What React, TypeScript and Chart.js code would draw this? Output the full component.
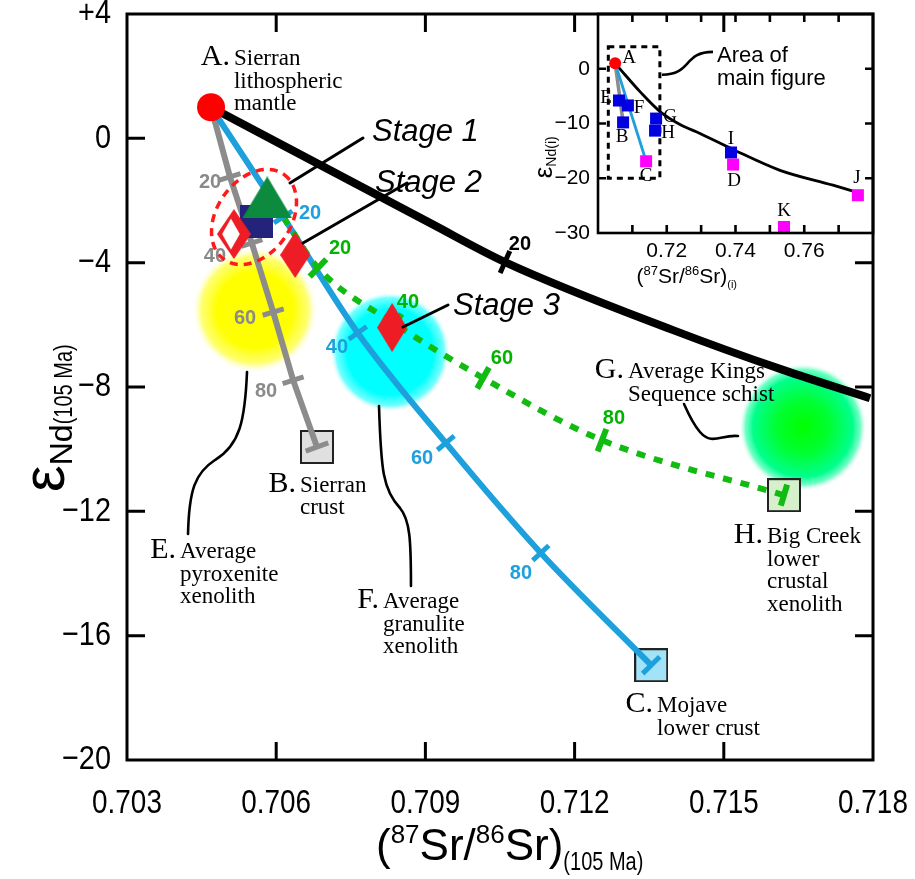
import React, { useEffect, useRef } from 'react';
import { Chart, registerables } from 'chart.js';

Chart.register(...registerables);

const SANS = '"Liberation Sans", Arial, Helvetica, sans-serif';
const SERIF = '"Liberation Serif", "Times New Roman", serif';

// ================= MAIN FIGURE DATA =================
const mainXMin = 0.703;
const mainXMax = 0.718;
const mainYMin = -20;
const mainYMax = 4;
const xTickValues = [0.703, 0.706, 0.709, 0.712, 0.715, 0.718];
const xTickLabels = ['0.703', '0.706', '0.709', '0.712', '0.715', '0.718'];
const xInnerTicks = [0.706, 0.709, 0.712, 0.715];
const yTickValues = [4, 0, -4, -8, -12, -16, -20];
const yTickLabels = ['+4', '0', '\u22124', '\u22128', '\u221212', '\u221216', '\u221220'];
const yLeftTicks = [0, -4, -8, -12, -16];
const yRightTicks = [-4, -8, -12, -16];

// end-member A
const pointAX = [0.70469];
const pointAY = [1.0];

// mixing curves (x, y) with tick nodes every 20 %
const blackCurveX = [0.70469, 0.70909, 0.7106, 0.71398, 0.71619, 0.71794];
const blackCurveY = [1.0, -2.72, -3.98, -6.17, -7.45, -8.36];
const blackTickIdx = [2];
const blackTickText = ['20'];
const blackTickTextX = [0.7109];
const blackTickTextY = [-3.4];

const grayLineX = [0.70469, 0.70507, 0.70551, 0.70594, 0.70634, 0.70682];
const grayLineY = [1.0, -1.24, -3.37, -5.59, -7.78, -9.93];
const grayTickText = ['20', '40', '60', '80'];
const grayTickTextX = [0.704669, 0.704769, 0.705373, 0.705795];
const grayTickTextY = [-1.405, -3.786, -5.78, -8.129];

const blueLineX = [0.70469, 0.70614, 0.70764, 0.70941, 0.71132, 0.71354];
const blueLineY = [1.0, -2.53, -6.26, -9.8, -13.34, -16.95];
const blueTickText = ['20', '40', '60', '80'];
const blueTickTextX = [0.70668, 0.707222, 0.708932, 0.710922];
const blueTickTextY = [-2.402, -6.713, -10.284, -13.984];

const greenLineX = [0.70614, 0.70684, 0.70839, 0.71016, 0.71255, 0.71621];
const greenLineY = [-2.53, -4.17, -5.97, -7.71, -9.71, -11.48];
const greenTickText = ['20', '40', '60', '80'];
const greenTickTextX = [0.707283, 0.70865, 0.71054, 0.712792];
const greenTickTextY = [-3.528, -5.266, -7.067, -8.997];

const curveTickIdx = [1, 2, 3, 4];

// end-member boxes B, C, H
const boxBX = [0.70682];
const boxBY = [-9.93];
const boxCX = [0.71354];
const boxCY = [-16.95];
const boxHX = [0.71621];
const boxHY = [-11.48];

// blobs E (pyroxenite), F (granulite), G (Kings schist)
const blobX = [0.70557, 0.70829, 0.71659];
const blobY = [-5.52, -6.87, -9.29];

// stage symbols
const stage1TriX = [0.70582];
const stage1TriY = [-1.9];
const navySqX = [0.7056];
const navySqY = [-2.676];
const hollowDiaX = [0.70515];
const hollowDiaY = [-3.078];
const stage2X = [0.70638];
const stage2Y = [-3.753];
const stage3X = [0.70833];
const stage3Y = [-6.086];
const ellipseX = [0.705554];
const ellipseY = [-2.531];

// text labels
const labelLetters = ['A.', 'B.', 'C.', 'E.', 'F.', 'G.', 'H.'];
const labelLines = [
  ['Sierran', 'lithospheric', 'mantle'],
  ['Sierran', 'crust'],
  ['Mojave', 'lower crust'],
  ['Average', 'pyroxenite', 'xenolith'],
  ['Average', 'granulite', 'xenolith'],
  ['Average Kings', 'Sequence schist'],
  ['Big Creek', 'lower', 'crustal', 'xenolith'],
];
const labelX = [0.705151, 0.706478, 0.713657, 0.704066, 0.708147, 0.713074, 0.715869];
const labelY = [2.359, -11.378, -18.456, -13.502, -15.11, -7.711, -13.019];

const stageText = ['Stage 1', 'Stage 2', 'Stage 3'];
const stageTextX = [0.707926, 0.707987, 0.709555];
const stageTextY = [-0.086, -1.727, -5.684];
const stageLeaderX = [[0.706277, 0.707745], [0.706539, 0.70863], [0.70855, 0.709454]];
const stageLeaderY = [[-1.437, 0.011], [-3.367, -1.437], [-6.07, -5.362]];

const leaderEX = [0.705413, 0.705373, 0.705272, 0.704769, 0.704367, 0.704247, 0.704227];
const leaderEY = [-7.518, -9.062, -9.866, -10.349, -10.767, -11.314, -12.729];
const leaderFX = [0.708067, 0.708107, 0.708147, 0.708489, 0.70869, 0.70871, 0.70871];
const leaderFY = [-8.611, -10.67, -11.314, -11.893, -12.279, -12.922, -14.402];
const leaderGX = [0.715285, 0.714963, 0.714763, 0.714521, 0.714381, 0.71428, 0.7142];
const leaderGY = [-9.577, -9.513, -9.898, -9.448, -9.191, -8.837, -8.547];

// ================= INSET DATA =================
const insetXMin = 0.7;
const insetXMax = 0.78;
const insetYMin = -30;
const insetYMax = 10;
const insetXMinor = [0.71, 0.72, 0.73, 0.74, 0.75, 0.76, 0.77];
const insetXLabelVals = [0.72, 0.74, 0.76];
const insetXLabels = ['0.72', '0.74', '0.76'];
const insetYTickVals = [0, -10, -20];
const insetYLabelVals = [0, -10, -20, -30];
const insetYLabels = ['0', '\u221210', '\u221220', '\u221230'];

const insetCurveX = [0.705, 0.70785, 0.71222, 0.71804, 0.72385, 0.72967, 0.73927, 0.75295, 0.76836, 0.77418];
const insetCurveY = [1.0, -1.09, -4.18, -7.82, -10.18, -11.82, -14.73, -18.55, -21.27, -22.36];
const insetGrayX = [0.705, 0.7073];
const insetGrayY = [1.0, -9.8];
const insetBlueX = [0.705, 0.714];
const insetBlueY = [1.0, -16.9];
const insetBlueSqX = [0.7061, 0.7087, 0.7073, 0.7169, 0.7166, 0.7387];
const insetBlueSqY = [-5.8, -6.7, -9.8, -9.1, -11.3, -15.3];
const insetMagSqX = [0.714, 0.7393, 0.7756, 0.7541];
const insetMagSqY = [-16.9, -17.5, -23.1, -28.9];
const insetLetters = ['A', 'E', 'F', 'B', 'G', 'H', 'C', 'I', 'D', 'J', 'K'];
const insetLetterX = [0.70902, 0.70233, 0.71193, 0.70698, 0.72095, 0.72036, 0.71396, 0.73869, 0.73956, 0.77535, 0.75411];
const insetLetterY = [2.0, -5.27, -7.09, -12.55, -8.9, -11.8, -19.6, -12.9, -20.5, -20.0, -26.0];
const insetLeaderX = [0.71862, 0.72735, 0.72473, 0.73345];
const insetLeaderY = [-1.09, -1.09, 3.09, 3.09];
const insetNoteLines = ['Area of', 'main figure'];
const insetNoteX = [0.73462];
const insetNoteY = [1.27];

// ================= helpers =================
function pts(xs: number[], ys: number[]) {
  return xs.map((x, i) => ({ x, y: ys[i] }));
}

function makeShape(w: number, h: number, draw: (g: CanvasRenderingContext2D, w: number, h: number) => void) {
  const c = document.createElement('canvas');
  c.width = w;
  c.height = h;
  const g = c.getContext('2d') as CanvasRenderingContext2D;
  draw(g, w, h);
  return c;
}

function diamondPath(g: CanvasRenderingContext2D, cx: number, cy: number, w: number, h: number) {
  g.beginPath();
  g.moveTo(cx, cy - h / 2);
  g.lineTo(cx + w / 2, cy);
  g.lineTo(cx, cy + h / 2);
  g.lineTo(cx - w / 2, cy);
  g.closePath();
}

type Run = { t: string; font: string; dy?: number; sx?: number };

function runsWidth(ctx: CanvasRenderingContext2D, runs: Run[]) {
  let w = 0;
  for (const r of runs) {
    ctx.font = r.font;
    w += ctx.measureText(r.t).width * (r.sx || 1);
  }
  return w;
}

function drawRuns(ctx: CanvasRenderingContext2D, runs: Run[], x: number, y: number, color = '#000') {
  let cx = x;
  for (const r of runs) {
    ctx.save();
    ctx.font = r.font;
    ctx.fillStyle = color;
    ctx.textAlign = 'left';
    ctx.textBaseline = 'alphabetic';
    const w = ctx.measureText(r.t).width * (r.sx || 1);
    ctx.translate(cx, y + (r.dy || 0));
    ctx.scale(r.sx || 1, 1);
    ctx.fillText(r.t, 0, 0);
    ctx.restore();
    cx += w;
  }
}

function drawScaledText(ctx: CanvasRenderingContext2D, s: string, x: number, y: number, sx: number, align: 'left' | 'right' | 'center') {
  ctx.save();
  ctx.translate(x, y);
  ctx.scale(sx, 1);
  ctx.textAlign = align;
  ctx.fillText(s, 0, 0);
  ctx.restore();
}

function toPx(chart: any, x: number, y: number) {
  return [chart.scales.x.getPixelForValue(x), chart.scales.y.getPixelForValue(y)];
}

function drawNodeTicks(ctx: CanvasRenderingContext2D, chart: any, xs: number[], ys: number[], idxs: number[], color: string, len: number, width: number) {
  ctx.save();
  ctx.strokeStyle = color;
  ctx.lineWidth = width;
  ctx.lineCap = 'butt';
  for (const i of idxs) {
    const a = Math.max(0, i - 1);
    const b = Math.min(xs.length - 1, i + 1);
    const [x0, y0] = toPx(chart, xs[a], ys[a]);
    const [x1, y1] = toPx(chart, xs[b], ys[b]);
    const [cx, cy] = toPx(chart, xs[i], ys[i]);
    let dx = x1 - x0;
    let dy = y1 - y0;
    const L = Math.hypot(dx, dy) || 1;
    dx /= L;
    dy /= L;
    const nx = -dy;
    const ny = dx;
    ctx.beginPath();
    ctx.moveTo(cx - (nx * len) / 2, cy - (ny * len) / 2);
    ctx.lineTo(cx + (nx * len) / 2, cy + (ny * len) / 2);
    ctx.stroke();
  }
  ctx.restore();
}

function drawNodeLabels(ctx: CanvasRenderingContext2D, chart: any, texts: string[], xs: number[], ys: number[], color: string) {
  ctx.save();
  ctx.font = `bold 20px ${SANS}`;
  ctx.fillStyle = color;
  ctx.textAlign = 'center';
  ctx.textBaseline = 'middle';
  texts.forEach((t, i) => {
    const [x, y] = toPx(chart, xs[i], ys[i]);
    ctx.fillText(t, x, y);
  });
  ctx.restore();
}

function drawBezier(ctx: CanvasRenderingContext2D, chart: any, xs: number[], ys: number[]) {
  const p = xs.map((x, i) => toPx(chart, x, ys[i]));
  ctx.beginPath();
  ctx.moveTo(p[0][0], p[0][1]);
  for (let i = 1; i + 2 < p.length; i += 3) {
    ctx.bezierCurveTo(p[i][0], p[i][1], p[i + 1][0], p[i + 1][1], p[i + 2][0], p[i + 2][1]);
  }
  ctx.stroke();
}

// ================= main plugin =================
const GREEN_INDEX = 6;

const mainDecor = {
  id: 'mainDecor',
  beforeDatasetsDraw(chart: any) {
    const ctx: CanvasRenderingContext2D = chart.ctx;
    const specs = [
      { r: 63, stops: [[0, '#ffff00'], [0.6, '#ffff00'], [0.85, 'rgba(255,255,90,0.85)'], [1, 'rgba(255,255,255,0)']] },
      { r: 60, stops: [[0, '#00ffff'], [0.72, '#00ffff'], [0.9, 'rgba(90,255,255,0.85)'], [1, 'rgba(255,255,255,0)']] },
      { r: 64, stops: [[0, '#00ff00'], [0.4, '#00ff30'], [0.78, '#00ff8c'], [0.9, 'rgba(70,255,180,0.75)'], [1, 'rgba(255,255,255,0)']] },
    ];
    ctx.save();
    specs.forEach((s, i) => {
      const [cx, cy] = toPx(chart, blobX[i], blobY[i]);
      const g = ctx.createRadialGradient(cx, cy, 0, cx, cy, s.r);
      s.stops.forEach((st: any) => g.addColorStop(st[0], st[1]));
      ctx.fillStyle = g;
      ctx.beginPath();
      ctx.arc(cx, cy, s.r, 0, Math.PI * 2);
      ctx.fill();
    });
    ctx.restore();
  },
  afterDatasetDraw(chart: any, args: any) {
    if (args.index !== GREEN_INDEX) return;
    const ctx: CanvasRenderingContext2D = chart.ctx;
    drawNodeTicks(ctx, chart, grayLineX, grayLineY, curveTickIdx, '#8c8c8c', 22, 5);
    drawNodeTicks(ctx, chart, grayLineX, grayLineY, [grayLineX.length - 1], '#8c8c8c', 24, 5);
    drawNodeTicks(ctx, chart, blueLineX, blueLineY, curveTickIdx, '#1ea0dc', 22, 5);
    drawNodeTicks(ctx, chart, blueLineX, blueLineY, [blueLineX.length - 1], '#1ea0dc', 24, 5);
    drawNodeTicks(ctx, chart, greenLineX, greenLineY, curveTickIdx, '#11bb11', 24, 6);
    drawNodeTicks(ctx, chart, greenLineX, greenLineY, [greenLineX.length - 1], '#11bb11', 22, 6);
    drawNodeTicks(ctx, chart, blackCurveX, blackCurveY, blackTickIdx, '#000', 24, 5);
    drawNodeLabels(ctx, chart, grayTickText, grayTickTextX, grayTickTextY, '#8a8a8a');
    drawNodeLabels(ctx, chart, blueTickText, blueTickTextX, blueTickTextY, '#1ea0dc');
    drawNodeLabels(ctx, chart, greenTickText, greenTickTextX, greenTickTextY, '#00b400');
    drawNodeLabels(ctx, chart, blackTickText, blackTickTextX, blackTickTextY, '#000');
  },
  afterDatasetsDraw(chart: any) {
    const ctx: CanvasRenderingContext2D = chart.ctx;
    const [ex, ey] = toPx(chart, ellipseX[0], ellipseY[0]);
    ctx.save();
    ctx.strokeStyle = '#ff1a1a';
    ctx.lineWidth = 3.5;
    ctx.setLineDash([8, 6]);
    ctx.beginPath();
    ctx.ellipse(ex, ey, 52, 37, (-55 * Math.PI) / 180, 0, Math.PI * 2);
    ctx.stroke();
    ctx.restore();
  },
  afterDraw(chart: any) {
    const ctx: CanvasRenderingContext2D = chart.ctx;
    const { left, right, top, bottom } = chart.chartArea;
    const xs = chart.scales.x;
    const ys = chart.scales.y;
    ctx.save();
    // frame + ticks
    ctx.strokeStyle = '#000';
    ctx.lineWidth = 3;
    ctx.strokeRect(left, top, right - left, bottom - top);
    ctx.beginPath();
    for (const v of xInnerTicks) {
      const p = xs.getPixelForValue(v);
      ctx.moveTo(p, bottom);
      ctx.lineTo(p, bottom - 18);
      ctx.moveTo(p, top);
      ctx.lineTo(p, top + 18);
    }
    for (const v of yLeftTicks) {
      const p = ys.getPixelForValue(v);
      ctx.moveTo(left, p);
      ctx.lineTo(left + 18, p);
    }
    for (const v of yRightTicks) {
      const p = ys.getPixelForValue(v);
      ctx.moveTo(right, p);
      ctx.lineTo(right - 18, p);
    }
    ctx.stroke();

    // tick labels (narrow sans)
    ctx.fillStyle = '#000';
    ctx.font = `34px ${SANS}`;
    ctx.textBaseline = 'alphabetic';
    xTickValues.forEach((v, i) => drawScaledText(ctx, xTickLabels[i], xs.getPixelForValue(v), bottom + 53, 0.82, 'center'));
    ctx.textBaseline = 'middle';
    yTickValues.forEach((v, i) => drawScaledText(ctx, yTickLabels[i], left - 16, ys.getPixelForValue(v), 0.85, 'right'));

    // x title
    const xRuns: Run[] = [
      { t: '(', font: `44px ${SANS}` },
      { t: '87', font: `26px ${SANS}`, dy: -17 },
      { t: 'Sr/', font: `44px ${SANS}` },
      { t: '86', font: `26px ${SANS}`, dy: -17 },
      { t: 'Sr', font: `44px ${SANS}` },
      { t: ')', font: `44px ${SANS}` },
      { t: '(105 Ma)', font: `25px ${SANS}`, dy: 10, sx: 0.8 },
    ];
    drawRuns(ctx, xRuns, 376, bottom + 100);

    // y title (rotated)
    ctx.save();
    ctx.translate(64, 492);
    ctx.rotate(-Math.PI / 2);
    const yRuns: Run[] = [
      { t: '\u03b5', font: `60px ${SANS}` },
      { t: 'Nd', font: `32px ${SANS}`, dy: 8 },
      { t: '(105 Ma)', font: `25px ${SANS}`, dy: 8, sx: 0.8 },
    ];
    drawRuns(ctx, yRuns, 0, 0);
    ctx.restore();

    // leaders
    ctx.strokeStyle = '#000';
    ctx.lineWidth = 3;
    ctx.lineCap = 'round';
    for (let i = 0; i < stageLeaderX.length; i++) {
      const [x0, y0] = toPx(chart, stageLeaderX[i][0], stageLeaderY[i][0]);
      const [x1, y1] = toPx(chart, stageLeaderX[i][1], stageLeaderY[i][1]);
      ctx.beginPath();
      ctx.moveTo(x0, y0);
      ctx.lineTo(x1, y1);
      ctx.stroke();
    }
    ctx.lineWidth = 2.6;
    drawBezier(ctx, chart, leaderEX, leaderEY);
    drawBezier(ctx, chart, leaderFX, leaderFY);
    drawBezier(ctx, chart, leaderGX, leaderGY);

    // stage labels
    ctx.font = `italic 31px ${SANS}`;
    ctx.textAlign = 'left';
    ctx.textBaseline = 'alphabetic';
    ctx.fillStyle = '#000';
    stageText.forEach((t, i) => {
      const [x, y] = toPx(chart, stageTextX[i], stageTextY[i]);
      ctx.fillText(t, x, y);
    });

    // end-member labels
    labelLetters.forEach((L, i) => {
      const [x, y] = toPx(chart, labelX[i], labelY[i]);
      ctx.font = `30px ${SERIF}`;
      ctx.textAlign = 'right';
      ctx.fillText(L, x - 4, y);
      ctx.font = `23px ${SERIF}`;
      ctx.textAlign = 'left';
      labelLines[i].forEach((s, j) => ctx.fillText(s, x, y + j * 22.5));
    });
    ctx.restore();
  },
};

// ================= inset plugin =================
const insetDecor = {
  id: 'insetDecor',
  beforeDatasetsDraw(chart: any) {
    const ctx: CanvasRenderingContext2D = chart.ctx;
    const [x0, y0] = toPx(chart, mainXMin, mainYMax);
    const [x1, y1] = toPx(chart, mainXMax, mainYMin);
    ctx.save();
    ctx.strokeStyle = '#000';
    ctx.lineWidth = 3;
    ctx.setLineDash([6, 5]);
    ctx.strokeRect(x0, y0, x1 - x0, y1 - y0);
    ctx.restore();
  },
  afterDraw(chart: any) {
    const ctx: CanvasRenderingContext2D = chart.ctx;
    const { left, right, top, bottom } = chart.chartArea;
    const xs = chart.scales.x;
    const ys = chart.scales.y;
    ctx.save();
    ctx.strokeStyle = '#000';
    ctx.lineWidth = 2.6;
    ctx.strokeRect(left, top, right - left, bottom - top);
    ctx.beginPath();
    for (const v of insetXMinor) {
      const p = xs.getPixelForValue(v);
      ctx.moveTo(p, bottom);
      ctx.lineTo(p, bottom - 8);
      ctx.moveTo(p, top);
      ctx.lineTo(p, top + 8);
    }
    for (const v of insetYTickVals) {
      const p = ys.getPixelForValue(v);
      ctx.moveTo(left, p);
      ctx.lineTo(left + 8, p);
      ctx.moveTo(right, p);
      ctx.lineTo(right - 8, p);
    }
    ctx.stroke();

    ctx.fillStyle = '#000';
    ctx.font = `21px ${SANS}`;
    ctx.textAlign = 'center';
    ctx.textBaseline = 'alphabetic';
    insetXLabelVals.forEach((v, i) => ctx.fillText(insetXLabels[i], xs.getPixelForValue(v), bottom + 24));
    ctx.textAlign = 'right';
    ctx.textBaseline = 'middle';
    insetYLabelVals.forEach((v, i) => ctx.fillText(insetYLabels[i], left - 8, ys.getPixelForValue(v)));

    // x title
    const xr: Run[] = [
      { t: '(', font: `21px ${SANS}` },
      { t: '87', font: `13px ${SANS}`, dy: -8 },
      { t: 'Sr/', font: `21px ${SANS}` },
      { t: '86', font: `13px ${SANS}`, dy: -8 },
      { t: 'Sr', font: `21px ${SANS}` },
      { t: ')', font: `21px ${SANS}` },
      { t: '(i)', font: `11px ${SANS}`, dy: 5 },
    ];
    const wx = runsWidth(ctx, xr);
    drawRuns(ctx, xr, (left + xs.getPixelForValue(0.74)) / 2 + 20 - wx / 2, bottom + 50);

    // y title
    ctx.save();
    ctx.translate(left - 46, ys.getPixelForValue(-20));
    ctx.rotate(-Math.PI / 2);
    const yr: Run[] = [
      { t: '\u03b5', font: `26px ${SANS}` },
      { t: 'Nd(i)', font: `14px ${SANS}`, dy: 4 },
    ];
    drawRuns(ctx, yr, 0, 0);
    ctx.restore();

    // leader + note
    ctx.lineWidth = 2.6;
    ctx.strokeStyle = '#000';
    drawBezier(ctx, chart, insetLeaderX, insetLeaderY);
    ctx.font = `22px ${SANS}`;
    ctx.textAlign = 'left';
    ctx.textBaseline = 'alphabetic';
    const [nx, ny] = toPx(chart, insetNoteX[0], insetNoteY[0]);
    insetNoteLines.forEach((s, j) => ctx.fillText(s, nx, ny + j * 23));

    // letters
    ctx.font = `19px ${SERIF}`;
    ctx.textAlign = 'center';
    ctx.textBaseline = 'middle';
    insetLetters.forEach((L, i) => {
      const [x, y] = toPx(chart, insetLetterX[i], insetLetterY[i]);
      ctx.fillText(L, x, y);
    });
    ctx.restore();
  },
};

// ================= component =================
export default function App() {
  const mainRef = useRef<HTMLCanvasElement>(null);
  const insetRef = useRef<HTMLCanvasElement>(null);

  useEffect(() => {
    const tri = makeShape(50, 42, (g, w, h) => {
      g.fillStyle = '#0c8a3e';
      g.beginPath();
      g.moveTo(w / 2, 0);
      g.lineTo(w, h);
      g.lineTo(0, h);
      g.closePath();
      g.fill();
    });
    const navy = makeShape(33, 33, (g, w, h) => {
      g.fillStyle = '#23237b';
      g.fillRect(0, 0, w, h);
    });
    const redDia = (w: number, h: number) =>
      makeShape(w, h, (g) => {
        g.fillStyle = '#ee1d25';
        diamondPath(g, w / 2, h / 2, w, h);
        g.fill();
      });
    const hollow = makeShape(34, 50, (g, w, h) => {
      g.fillStyle = '#ee1d25';
      diamondPath(g, w / 2, h / 2, w, h);
      g.fill();
      g.fillStyle = '#ffffff';
      diamondPath(g, w / 2 - 3, h / 2, w * 0.52, h * 0.62);
      g.fill();
    });
    const box = (fill: string) =>
      makeShape(34, 34, (g) => {
        g.fillStyle = fill;
        g.fillRect(1, 1, 32, 32);
        g.strokeStyle = '#222';
        g.lineWidth = 2;
        g.strokeRect(1, 1, 32, 32);
      });

    const imgDs = (xs: number[], ys: number[], img: HTMLCanvasElement) => ({
      data: pts(xs, ys),
      pointStyle: img,
      pointRadius: 10,
      showLine: false,
      clip: false,
    });
    const lineDs = (xs: number[], ys: number[], color: string, width: number, extra: any = {}) => ({
      data: pts(xs, ys),
      showLine: true,
      borderColor: color,
      borderWidth: width,
      pointRadius: 0,
      fill: false,
      cubicInterpolationMode: 'monotone',
      ...extra,
    });

    const mainDatasets: any[] = [
      imgDs(boxBX, boxBY, box('#e0e0e0')),
      imgDs(boxCX, boxCY, box('#a3e3f8')),
      imgDs(boxHX, boxHY, box('#d5f0cb')),
      lineDs(grayLineX, grayLineY, '#8c8c8c', 6, { cubicInterpolationMode: 'default', tension: 0 }),
      lineDs(blueLineX, blueLineY, '#1ea0dc', 6),
      lineDs(blackCurveX, blackCurveY, '#000000', 8),
      lineDs(greenLineX, greenLineY, '#11bb11', 6, { borderDash: [9, 9], borderCapStyle: 'butt' }),
      imgDs(navySqX, navySqY, navy),
      imgDs(stage1TriX, stage1TriY, tri),
      imgDs(hollowDiaX, hollowDiaY, hollow),
      imgDs(stage2X, stage2Y, redDia(30, 46)),
      imgDs(stage3X, stage3Y, redDia(30, 49)),
      {
        data: pts(pointAX, pointAY),
        pointStyle: 'circle',
        pointRadius: 14,
        backgroundColor: '#ff0000',
        borderWidth: 0,
        showLine: false,
        clip: false,
      },
    ];
    mainDatasets.forEach((d, i) => (d.order = 100 - i));

    const mainChart = new Chart(mainRef.current as HTMLCanvasElement, {
      type: 'scatter',
      data: { datasets: mainDatasets },
      options: {
        responsive: false,
        animation: false,
        devicePixelRatio: 1,
        events: [],
        layout: { padding: { left: 127, top: 14, right: 42, bottom: 119 } },
        scales: {
          x: { type: 'linear', min: mainXMin, max: mainXMax, display: false },
          y: { type: 'linear', min: mainYMin, max: mainYMax, display: false },
        },
        plugins: { legend: { display: false }, tooltip: { enabled: false } },
      } as any,
      plugins: [mainDecor as any],
    });

    const insetDatasets: any[] = [
      lineDs(insetCurveX, insetCurveY, '#000', 2.8),
      lineDs(insetGrayX, insetGrayY, '#8c8c8c', 3.5, { cubicInterpolationMode: 'default', tension: 0 }),
      lineDs(insetBlueX, insetBlueY, '#1ea0dc', 2.8, { cubicInterpolationMode: 'default', tension: 0 }),
      {
        data: pts(insetBlueSqX, insetBlueSqY),
        pointStyle: 'rect',
        pointRadius: 8.5,
        backgroundColor: '#0000e0',
        borderWidth: 0,
        showLine: false,
        clip: false,
      },
      {
        data: pts(insetMagSqX, insetMagSqY),
        pointStyle: 'rect',
        pointRadius: 8.5,
        backgroundColor: '#ff00ff',
        borderWidth: 0,
        showLine: false,
        clip: false,
      },
      {
        data: [{ x: 0.705, y: 1.0 }],
        pointStyle: 'circle',
        pointRadius: 6,
        backgroundColor: '#ff0000',
        borderWidth: 0,
        showLine: false,
        clip: false,
      },
    ];
    insetDatasets.forEach((d, i) => (d.order = 100 - i));

    const insetChart = new Chart(insetRef.current as HTMLCanvasElement, {
      type: 'scatter',
      data: { datasets: insetDatasets },
      options: {
        responsive: false,
        animation: false,
        devicePixelRatio: 1,
        events: [],
        layout: { padding: { left: 78, top: 14, right: 42, bottom: 67 } },
        scales: {
          x: { type: 'linear', min: insetXMin, max: insetXMax, display: false },
          y: { type: 'linear', min: insetYMin, max: insetYMax, display: false },
        },
        plugins: { legend: { display: false }, tooltip: { enabled: false } },
      } as any,
      plugins: [insetDecor as any],
    });

    return () => {
      mainChart.destroy();
      insetChart.destroy();
    };
  }, []);

  return (
    <div style={{ position: 'absolute', left: 0, top: 0, width: 915, height: 879 }}>
      <canvas
        ref={mainRef}
        width={915}
        height={879}
        style={{ position: 'absolute', left: 0, top: 0, width: 915, height: 879 }}
      />
      <canvas
        ref={insetRef}
        width={395}
        height={300}
        style={{ position: 'absolute', left: 520, top: 0, width: 395, height: 300 }}
      />
    </div>
  );
}
